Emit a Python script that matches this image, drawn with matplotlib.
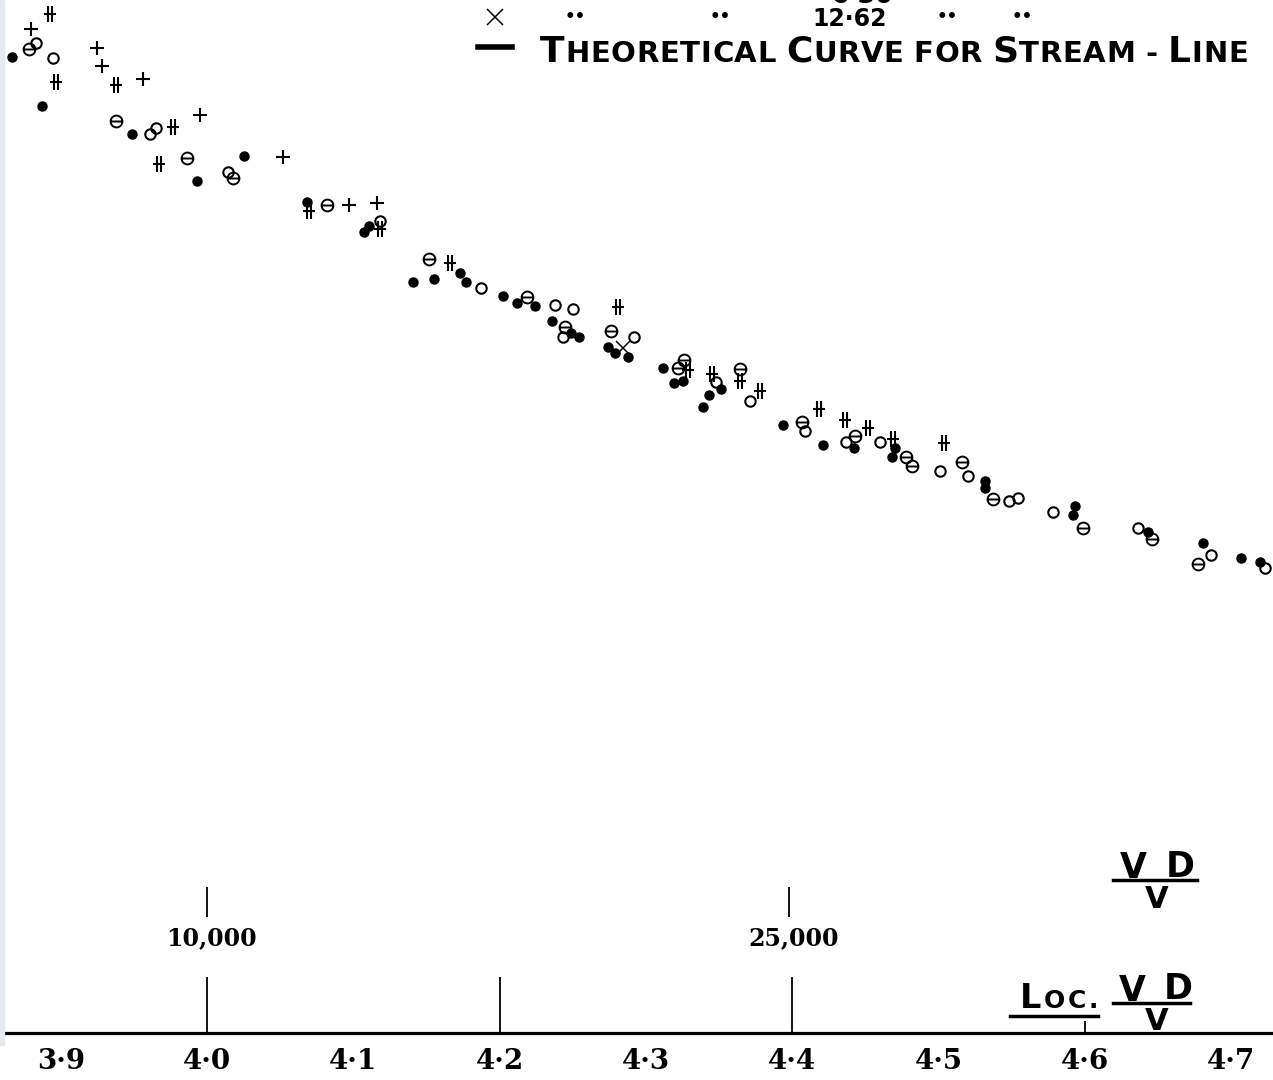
import matplotlib
matplotlib.use("Agg")
import matplotlib.pyplot as plt
from matplotlib.path import Path
from matplotlib.lines import Line2D
from matplotlib.patches import Rectangle
import numpy as np

# log(VD/nu) on x, resistance (arbitrary units, no scale printed) on y
filled_x = [3.867, 3.887, 3.949, 3.993, 4.025, 4.068, 4.107, 4.111, 4.141, 4.155,
            4.173, 4.177, 4.202, 4.212, 4.224, 4.236, 4.249, 4.254, 4.274, 4.279,
            4.288, 4.312, 4.319, 4.325, 4.351, 4.343, 4.339, 4.394, 4.421, 4.442,
            4.470, 4.468, 4.532, 4.532, 4.593, 4.592, 4.643, 4.681, 4.707, 4.720]
filled_y = [9.76, 9.27, 8.99, 8.52, 8.77, 8.31, 8.01, 8.07, 7.51, 7.54,
            7.60, 7.51, 7.37, 7.30, 7.27, 7.12, 7.00, 6.96, 6.86, 6.80,
            6.76, 6.65, 6.50, 6.52, 6.44, 6.38, 6.26, 6.08, 5.88, 5.85,
            5.85, 5.76, 5.52, 5.45, 5.27, 5.18, 5.01, 4.90, 4.75, 4.71]

open_x = [3.883, 3.895, 3.961, 3.965, 4.014, 4.118, 4.187, 4.238, 4.250, 4.243,
          4.292, 4.348, 4.371, 4.409, 4.437, 4.460, 4.501, 4.520, 4.548, 4.554,
          4.578, 4.636, 4.686, 4.723]
open_y = [9.90, 9.75, 8.99, 9.05, 8.61, 8.12, 7.45, 7.28, 7.24, 6.96,
          6.96, 6.51, 6.32, 6.02, 5.91, 5.91, 5.62, 5.57, 5.32, 5.35,
          5.21, 5.05, 4.78, 4.65]

theta_x = [3.878, 3.938, 3.986, 4.018, 4.082, 4.152, 4.219, 4.245, 4.276, 4.322,
           4.326, 4.364, 4.407, 4.443, 4.478, 4.482, 4.516, 4.537, 4.599, 4.646,
           4.677]
theta_y = [9.84, 9.12, 8.75, 8.55, 8.28, 7.74, 7.36, 7.06, 7.02, 6.65,
           6.73, 6.64, 6.11, 5.97, 5.76, 5.67, 5.71, 5.34, 5.05, 4.94,
           4.69]

plus_x = [3.880, 3.925, 3.928, 3.956, 3.995, 4.052, 4.097, 4.116]
plus_y = [10.04, 9.85, 9.67, 9.54, 9.18, 8.76, 8.28, 8.30]

dcross_x = [3.893, 3.897, 3.938, 3.977, 3.967, 4.070, 4.118, 4.166, 4.281, 4.329,
            4.345, 4.364, 4.378, 4.418, 4.436, 4.452, 4.469, 4.504]
dcross_y = [10.19, 9.51, 9.48, 9.06, 8.69, 8.22, 8.04, 7.70, 7.26, 6.63,
            6.59, 6.52, 6.42, 6.24, 6.13, 6.05, 5.94, 5.90]

cross_x = [4.284]
cross_y = [6.85]

log_ticks = [3.9, 4.0, 4.1, 4.2, 4.3, 4.4, 4.5, 4.6, 4.7]
log_labels = ["3·9", "4·0", "4·1", "4·2", "4·3", "4·4", "4·5", "4·6", "4·7"]
long_ticks = [4.0, 4.2, 4.4]
re_values = [10000, 25000]
re_labels = ["10,000", "25,000"]

W, H = 1273, 1080


def fx(px):
    return px / W


def fy(py):
    return 1 - py / H


fig = plt.figure(figsize=(W / 100, H / 100), dpi=100)
ax = fig.add_axes([0, 0, 1, 1])
ax.set_xlim(3.8585, 4.7286)
ax.set_ylim(-0.47, 10.33)
for s in ["top", "left", "right"]:
    ax.spines[s].set_visible(False)
ax.spines["bottom"].set_position(("data", 0))
ax.spines["bottom"].set_linewidth(2.3)
ax.spines["bottom"].set_bounds(3.862, 4.7286)
ax.set_yticks([])
ax.set_xticks(log_ticks, log_labels)
ax.tick_params(axis="x", length=0, pad=11, labelsize=20)
for lbl in ax.get_xticklabels():
    lbl.set_fontfamily("DejaVu Serif")
    lbl.set_fontweight("bold")

# scan edge strip
fig.patches.append(Rectangle((0, fy(1045)), fx(4), 1 - fy(1045), transform=fig.transFigure,
                             color="#e4eaf2", zorder=0))

ax.vlines(long_ticks, 0, 0.56, color="black", lw=1.3)
ax.vlines([4.6], 0, 0.12, color="black", lw=1.3)
re_pos = np.log10(re_values)
ax.vlines(re_pos, 1.16, 1.46, color="black", lw=1.3)
for xp, lab in zip(re_pos, re_labels):
    ax.text(xp + 0.003, 0.95, lab, ha="center", va="center", fontsize=17,
            family="DejaVu Serif", fontweight="bold")

# markers
theta_marker = Path.make_compound_path(
    Path.unit_circle(), Path([(-1, 0), (1, 0)], [Path.MOVETO, Path.LINETO]))
dcross_marker = Path([(-0.2, -1), (-0.2, 1), (0.2, -1), (0.2, 1), (-0.85, 0), (0.85, 0)],
                     [Path.MOVETO, Path.LINETO, Path.MOVETO, Path.LINETO, Path.MOVETO, Path.LINETO])

ax.plot(filled_x, filled_y, "o", ls="none", ms=6.5, color="black")
ax.plot(open_x, open_y, "o", ls="none", ms=7.5, mfc="none", mec="black", mew=1.5)
ax.plot(theta_x, theta_y, marker=theta_marker, ls="none", ms=8.5, mfc="none", mec="black", mew=1.4)
ax.plot(plus_x, plus_y, "+", ls="none", ms=10, mew=1.5, color="black")
ax.plot(dcross_x, dcross_y, marker=dcross_marker, ls="none", ms=11, mew=1.5, color="black")
ax.plot(cross_x, cross_y, "x", ls="none", ms=10, mew=1.1, color="black")

renderer = fig.canvas.get_renderer()


def small_caps(text, x0, x1, base, big, small):
    # hand lettered small caps, spread evenly between x0 and x1 (pixels)
    items = []
    for ch in text:
        items.append((ch.upper(), big if ch.isupper() else small))
    arts, widths = [], []
    for ch, size in items:
        t = fig.text(0, fy(base), ch, fontsize=size, fontweight="bold",
                     family="DejaVu Sans", va="baseline", ha="left")
        arts.append(t)
        if ch == " ":
            widths.append(0.3 * size * 100 / 72)
        else:
            widths.append(t.get_window_extent(renderer).width)
    gap = (x1 - x0 - sum(widths)) / (len(items) - 1)
    x = x0
    for t, w in zip(arts, widths):
        t.set_x(fx(x))
        x += w + gap


# legend fragment at top (upper row is cut off by the page edge)
fig.text(fx(862), fy(3), "6·30", fontsize=18, ha="center", va="baseline",
         family="DejaVu Sans", fontweight="bold")
fig.add_artist(Line2D([fx(495)], [fy(17)], marker="x", ms=11, mew=1.1, color="black",
                      transform=fig.transFigure))
for px in [575, 720, 947, 1022]:
    fig.text(fx(px), fy(17), "••", fontsize=12, ha="center", va="center", fontweight="bold")
fig.text(fx(850), fy(19), "12·62", fontsize=17, ha="center", va="center",
         family="DejaVu Sans", fontweight="bold")
fig.add_artist(Line2D([fx(478), fx(512)], [fy(47), fy(47)], lw=4, color="black",
                      transform=fig.transFigure))
small_caps("Theoretical Curve for Stream - Line", 540, 1248, 62, 26, 21)

# axis titles
for (vx, vy), (dx, dy), (b0, b1, by), (nx, ny) in [
        ((1133, 868), (1180, 867), (1113, 1197, 880), (1157, 899)),
        ((1132, 991), (1178, 989), (1113, 1190, 1003), (1157, 1022))]:
    fig.text(fx(vx), fy(vy), "V", fontsize=25, fontweight="bold", ha="center", va="center")
    fig.text(fx(dx), fy(dy), "D", fontsize=25, fontweight="bold", ha="center", va="center")
    fig.add_artist(Line2D([fx(b0), fx(b1)], [fy(by), fy(by)], lw=2.5, color="black",
                          transform=fig.transFigure))
    fig.text(fx(nx), fy(ny), "V", fontsize=22, fontweight="bold", ha="center", va="center")

small_caps("Loc.", 1020, 1098, 1008, 24, 18)
fig.add_artist(Line2D([fx(1010), fx(1098)], [fy(1016), fy(1016)], lw=2.5, color="black",
                      transform=fig.transFigure))

fig.savefig("out.png", dpi=100)
